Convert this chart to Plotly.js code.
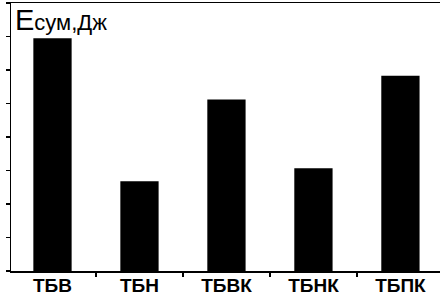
<!DOCTYPE html>
<html>
<head>
<meta charset="utf-8">
<script src="https://cdn.plot.ly/plotly-3.0.1.min.js"></script>
<style>html,body{margin:0;padding:0;background:#fff;}#chart{width:442px;height:296px;}</style>
</head>
<body>
<div id="chart"></div>
<script>
const categories = ["ТБВ", "ТБН", "ТБВК", "ТБНК", "ТБПК"];
const energy = [6.95, 2.68, 5.12, 3.07, 5.83];
const yTicks = [0, 1, 2, 3, 4, 5, 6, 7, 8];

const trace = {
  type: "bar",
  x: categories,
  y: energy,
  marker: {color: "#000000", line: {width: 0}},
  hoverinfo: "none"
};

const layout = {
  width: 442,
  height: 296,
  margin: {l: 11, r: 2, t: 3, b: 25},
  paper_bgcolor: "#ffffff",
  plot_bgcolor: "#ffffff",
  bargap: 0.56,
  showlegend: false,
  font: {family: "Liberation Sans, Arial, sans-serif", color: "#000"},
  xaxis: {
    type: "category",
    range: [-0.477, 4.455],
    showline: true, linecolor: "#000", linewidth: 1.5,
    mirror: true,
    ticks: "outside", ticklen: 4, tickcolor: "#000", tickwidth: 1.5,
    tickson: "boundaries",
    ticklabelstandoff: -3,
    showgrid: false, zeroline: false,
    tickfont: {family: "Liberation Sans, Arial, sans-serif", size: 19, color: "#000", weight: "bold"}
  },
  yaxis: {
    range: [0, 8],
    tickmode: "array", tickvals: yTicks,
    showticklabels: false,
    showline: true, linecolor: "#000", linewidth: 1.5,
    ticks: "outside", ticklen: 4, tickcolor: "#000", tickwidth: 1.5,
    showgrid: false, zeroline: false
  },
  annotations: [{
    xref: "paper", yref: "paper", x: 0, y: 1,
    xanchor: "left", yanchor: "top",
    xshift: 2, yshift: 1,
    showarrow: false,
    text: "<span style='font-size:29px'>E</span><span style='font-size:22px'>сум,Дж</span>",
    font: {family: "Liberation Sans, Arial, sans-serif", size: 22, color: "#000"}
  }]
};

Plotly.newPlot("chart", [trace], layout, {displayModeBar: false, staticPlot: true});
</script>
</body>
</html>
